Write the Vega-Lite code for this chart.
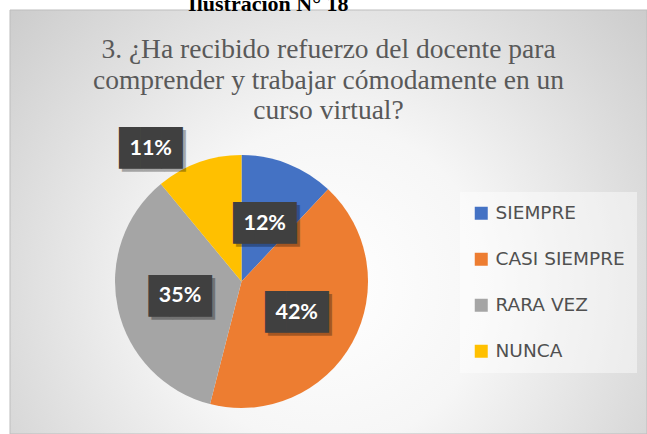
{
  "$schema": "https://vega.github.io/schema/vega-lite/v6.json",
  "width": 637,
  "height": 424,
  "autosize": {"type": "none"},
  "padding": {"left": 10, "top": 10, "right": 0, "bottom": 0},
  "background": "#ffffff",
  "title": {
    "text": "Ilustración N° 18\u00a0\u00a0\u00a0\u00a0\u00a0\u00a0\u00a0\u00a0\u00a0\u00a0\u00a0\u00a0\u00a0\u00a0\u00a0\u00a0\u00a0\u00a0\u00a0\u2800",
    "subtitle": ["3. ¿Ha recibido refuerzo del docente para", "comprender y trabajar cómodamente en un", "curso virtual?"],
    "anchor": "middle",
    "frame": "group",
    "offset": -116,
    "font": "Liberation Serif",
    "fontSize": 22,
    "fontWeight": "bold",
    "color": "#000000",
    "subtitleFont": "Liberation Serif",
    "subtitleFontSize": 27.5,
    "subtitleColor": "#595959",
    "subtitleLineHeight": 30.5,
    "subtitlePadding": 20
  },
  "layer": [
    {
      "data": {"values": [{}]},
      "mark": {
        "type": "rect", "x": 0, "y": 0, "x2": {"expr": "width"}, "y2": {"expr": "height"},
        "stroke": "#bdbdbd", "strokeWidth": 1,
        "fill": {
          "gradient": "radial",
          "x1": 0.5, "y1": 0.6, "r1": 0,
          "x2": 0.5, "y2": 0.6, "r2": 0.72,
          "stops": [
            {"offset": 0, "color": "#ffffff"},
            {"offset": 0.35, "color": "#f6f6f6"},
            {"offset": 1, "color": "#c6c6c6"}
          ]
        }
      }
    },
    {
      "data": {"name": "respuestas"},
      "mark": {"type": "arc", "outerRadius": 126.5, "x": 231.5, "y": 271.5},
      "encoding": {
        "theta": {"field": "porcentaje", "type": "quantitative", "stack": true},
        "order": {"field": "orden", "type": "quantitative"},
        "color": {
          "field": "categoria",
          "type": "nominal",
          "scale": {"domain": ["SIEMPRE", "CASI SIEMPRE", "RARA VEZ", "NUNCA"], "range": ["#4472C4", "#ED7D31", "#A5A5A5", "#FFC000"]},
          "sort": ["SIEMPRE", "CASI SIEMPRE", "RARA VEZ", "NUNCA"],
          "legend": {
            "orient": "none",
            "legendX": 450,
            "legendY": 182,
            "title": null,
            "symbolType": "square",
            "symbolSize": 169,
            "symbolStrokeWidth": 0,
            "labelFont": "DejaVu Sans",
            "labelFontSize": 18.5,
            "labelColor": "#505050",
            "labelLimit": 300,
            "labelOffset": 5,
            "rowPadding": 27,
            "padding": 12,
            "fillColor": "rgba(255,255,255,0.45)",
            "strokeColor": null
          }
        }
      }
    },
    {
      "data": {"name": "respuestas"},
      "mark": {"type": "text", "text": "███", "font": "DejaVu Sans Mono", "fontSize": 35, "color": "#000000", "opacity": 0.3, "x": 231.5, "y": 271.5,
        "radius": {"expr": "datum.categoria === 'NUNCA' ? 150 : 63"},
        "dx": {"expr": "datum.categoria === 'NUNCA' ? -37 : 3"},
        "dy": {"expr": "datum.categoria === 'NUNCA' ? 12 : 4.5"}},
      "encoding": {
        "theta": {"field": "porcentaje", "type": "quantitative", "stack": true},
        "order": {"field": "orden", "type": "quantitative"}
      }
    },
    {
      "data": {"name": "respuestas"},
      "mark": {"type": "text", "text": "███", "font": "DejaVu Sans Mono", "fontSize": 35, "color": "#404040", "x": 231.5, "y": 271.5,
        "radius": {"expr": "datum.categoria === 'NUNCA' ? 150 : 63"},
        "dx": {"expr": "datum.categoria === 'NUNCA' ? -40 : 0"},
        "dy": {"expr": "datum.categoria === 'NUNCA' ? 9 : 1.5"}},
      "encoding": {
        "theta": {"field": "porcentaje", "type": "quantitative", "stack": true},
        "order": {"field": "orden", "type": "quantitative"}
      }
    },
    {
      "data": {"name": "respuestas"},
      "mark": {"type": "text", "font": "Lato", "fontWeight": "bold", "fontSize": 21.5, "color": "#ffffff", "x": 231.5, "y": 271.5,
        "radius": {"expr": "datum.categoria === 'NUNCA' ? 150 : 63"},
        "dx": {"expr": "datum.categoria === 'NUNCA' ? -40 : 0"},
        "dy": {"expr": "datum.categoria === 'NUNCA' ? 8.5 : 1"}},
      "encoding": {
        "theta": {"field": "porcentaje", "type": "quantitative", "stack": true},
        "order": {"field": "orden", "type": "quantitative"},
        "text": {"field": "porcentaje", "type": "quantitative", "format": ".0%"}
      }
    }
  ],
  "datasets": {
    "respuestas": [
      {"categoria": "SIEMPRE", "porcentaje": 0.12, "orden": 1},
      {"categoria": "CASI SIEMPRE", "porcentaje": 0.42, "orden": 2},
      {"categoria": "RARA VEZ", "porcentaje": 0.35, "orden": 3},
      {"categoria": "NUNCA", "porcentaje": 0.11, "orden": 4}
    ]
  },
  "config": {
    "view": {"stroke": null}
  }
}
